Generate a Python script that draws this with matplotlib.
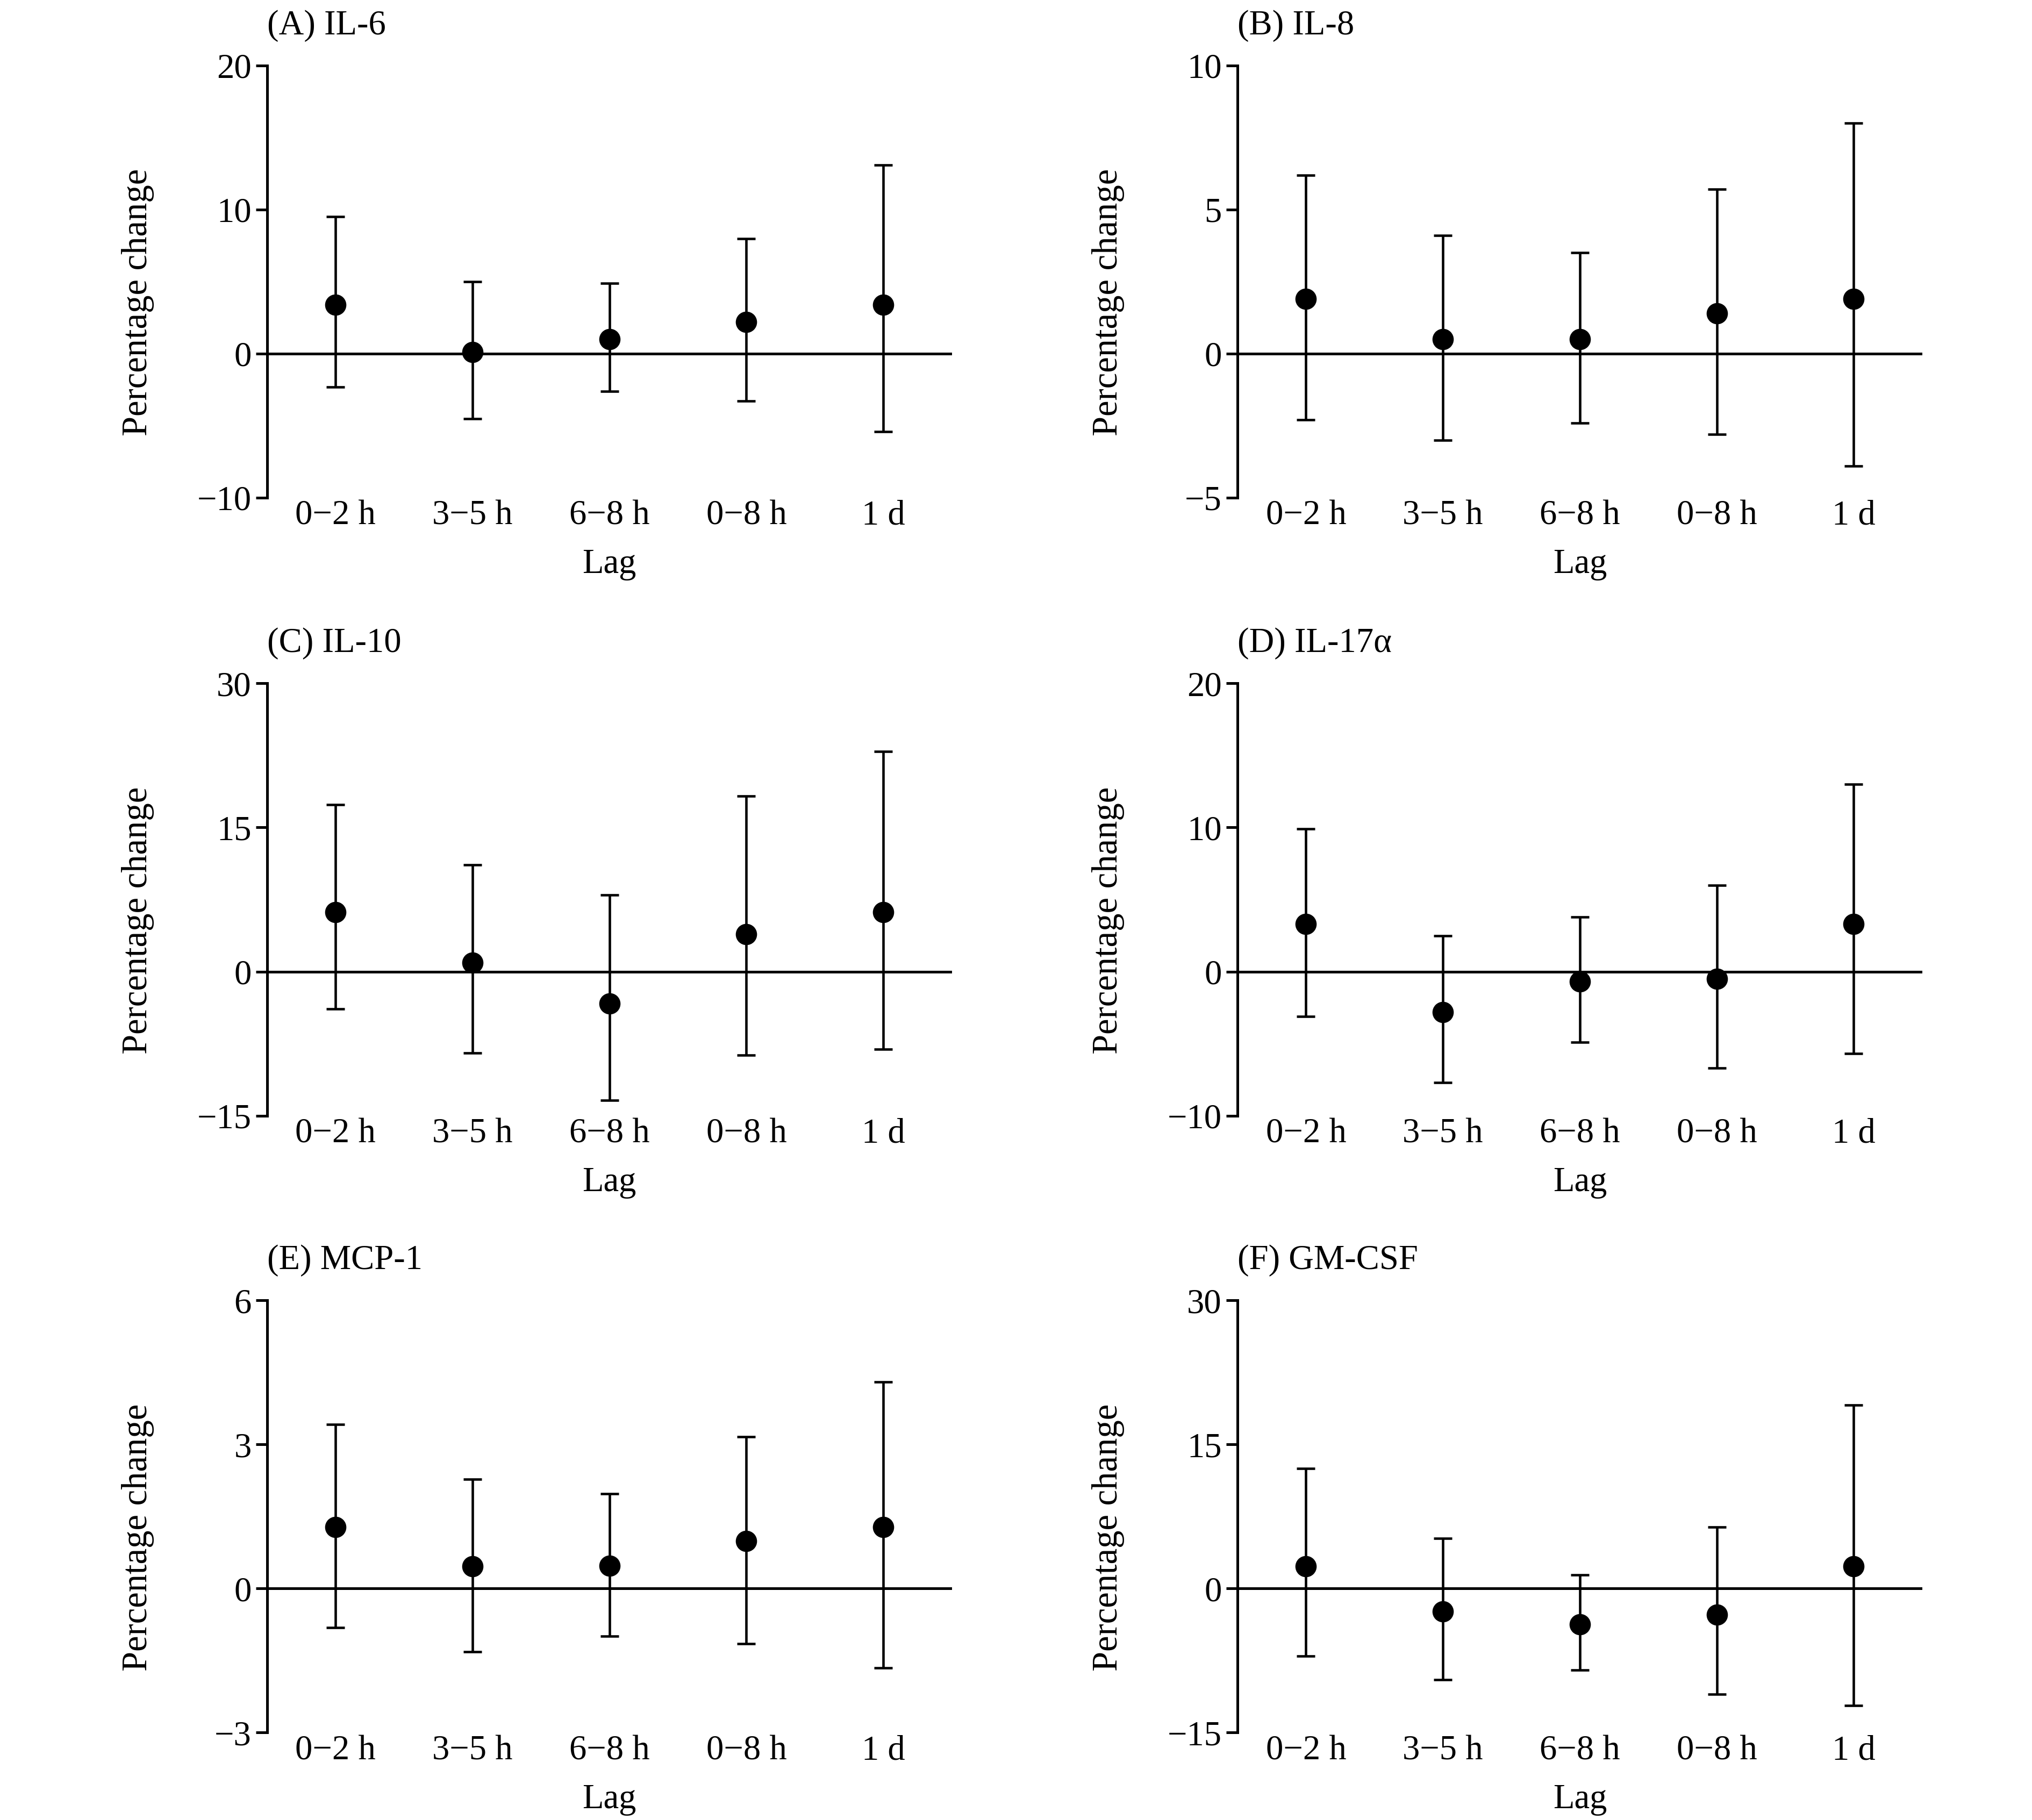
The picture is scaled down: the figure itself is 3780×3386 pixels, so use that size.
import matplotlib
matplotlib.use("Agg")
import matplotlib.pyplot as plt

plt.rcParams['font.family'] = ['Liberation Serif', 'DejaVu Serif']
plt.rcParams['axes.unicode_minus'] = True

lags = ["0\u22122 h", "3\u22125 h", "6\u22128 h", "0\u22128 h", "1 d"]
titles = ["(A) IL-6", "(B) IL-8", "(C) IL-10", "(D) IL-17\u03b1", "(E) MCP-1", "(F) GM-CSF"]

il6_est = [3.4, 0.1, 1.0, 2.2, 3.4]
il6_low = [-2.3, -4.5, -2.6, -3.3, -5.4]
il6_high = [9.5, 5.0, 4.9, 8.0, 13.1]

il8_est = [1.9, 0.5, 0.5, 1.4, 1.9]
il8_low = [-2.3, -3.0, -2.4, -2.8, -3.9]
il8_high = [6.2, 4.1, 3.5, 5.7, 8.0]

il10_est = [6.2, 0.9, -3.3, 3.9, 6.2]
il10_low = [-3.9, -8.5, -13.4, -8.7, -8.1]
il10_high = [17.4, 11.1, 8.0, 18.3, 22.9]

il17_est = [3.3, -2.8, -0.7, -0.5, 3.3]
il17_low = [-3.1, -7.7, -4.9, -6.7, -5.7]
il17_high = [9.9, 2.5, 3.8, 6.0, 13.0]

mcp1_est = [1.28, 0.46, 0.48, 0.99, 1.28]
mcp1_low = [-0.81, -1.32, -0.99, -1.15, -1.65]
mcp1_high = [3.42, 2.28, 1.97, 3.16, 4.30]

gmcsf_est = [2.3, -2.4, -3.7, -2.7, 2.3]
gmcsf_low = [-7.0, -9.5, -8.5, -11.0, -12.2]
gmcsf_high = [12.5, 5.2, 1.4, 6.4, 19.1]

yticks_all = [
    [-10, 0, 10, 20],
    [-5, 0, 5, 10],
    [-15, 0, 15, 30],
    [-10, 0, 10, 20],
    [-3, 0, 3, 6],
    [-15, 0, 15, 30],
]

series = [
    (il6_est, il6_low, il6_high),
    (il8_est, il8_low, il8_high),
    (il10_est, il10_low, il10_high),
    (il17_est, il17_low, il17_high),
    (mcp1_est, mcp1_low, mcp1_high),
    (gmcsf_est, gmcsf_low, gmcsf_high),
]

fig = plt.figure(figsize=(12.6, 11.2867), dpi=300)
fig.patch.set_facecolor('white')

lefts = [0.1314, 0.609]
bottoms = [0.7265, 0.3870, 0.0480]
w, h = 0.337, 0.2375

for i, (est, low, high) in enumerate(series):
    row, col = divmod(i, 2)
    ax = fig.add_axes([lefts[col], bottoms[row], w, h])
    x = list(range(len(lags)))
    yerr = [[e - l for e, l in zip(est, low)], [hh - e for e, hh in zip(est, high)]]

    ax.axhline(0, color='black', linewidth=1.2, zorder=1)
    ax.errorbar(x, est, yerr=yerr, fmt='o', color='black', markersize=8.5,
                ecolor='black', elinewidth=1.1, capsize=4, capthick=1.1, zorder=3)

    yt = yticks_all[i]
    ax.set_ylim(yt[0], yt[-1])
    ax.set_yticks(yt)
    ax.set_xlim(-0.5, 4.5)
    ax.set_xticks(x)
    ax.set_xticklabels(lags)

    for s in ['top', 'right', 'bottom']:
        ax.spines[s].set_visible(False)
    ax.spines['left'].set_linewidth(1.2)
    ax.tick_params(axis='y', direction='out', length=5, width=1.2, labelsize=15.5, pad=2)
    ax.tick_params(axis='x', length=0, labelsize=15.5, pad=1)

    ax.set_xlabel('Lag', fontsize=15.5, labelpad=7.5)
    ax.set_ylabel('Percentage change', fontsize=16)
    ax.yaxis.set_label_coords(-0.165, 0.452)
    ax.set_title(titles[i], loc='left', fontsize=15.5, pad=14)

fig.savefig('out.png', dpi=300, facecolor='white')
